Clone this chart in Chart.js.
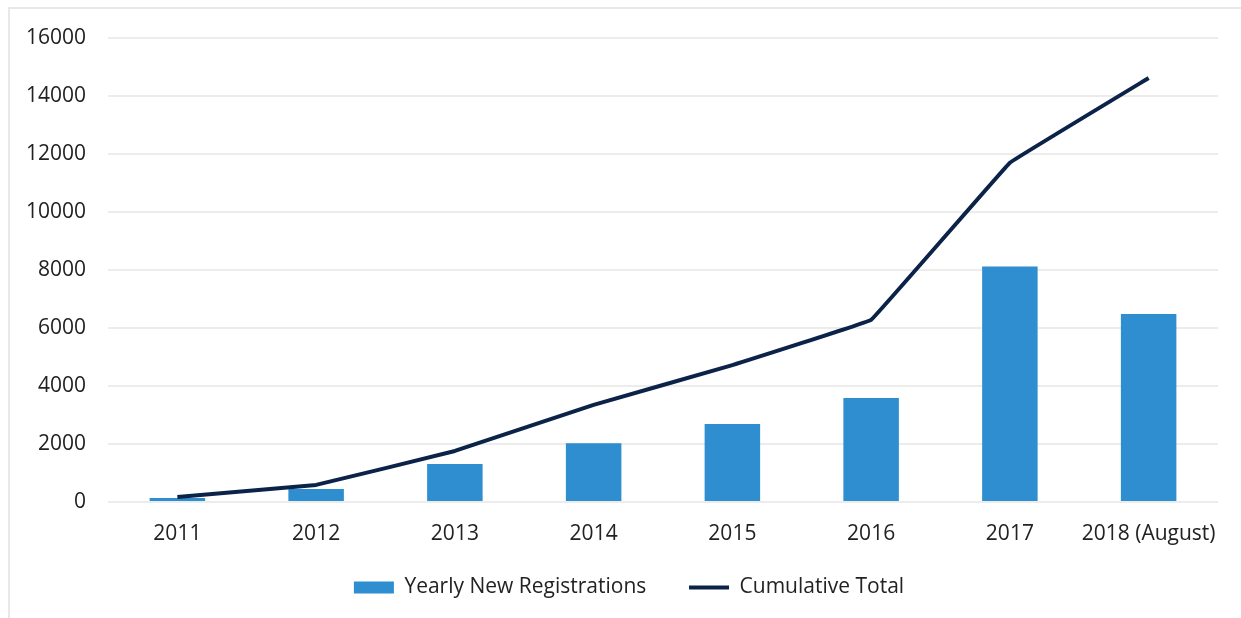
<!DOCTYPE html>
<html lang="en">
<head>
  <meta charset="UTF-8" />
  <title>Yearly New Registrations</title>
  <script src="https://cdn.jsdelivr.net/npm/chart.js"></script>
  <style>
    html, body { margin: 0; padding: 0; background: #fff; }
    #frame {
      position: absolute; left: 8px; top: 7px; width: 1240px; height: 620px;
      border-left: 2px solid #e8e8e8; border-top: 2px solid #e8e8e8;
    }
    #wrap { position: absolute; left: 0; top: 0; width: 1241px; height: 618px; }
  </style>
</head>
<body>
  <div id="frame"></div>
  <div id="wrap"><canvas id="chart" width="1241" height="618"></canvas></div>

  <script>
    const years = ["2011", "2012", "2013", "2014", "2015", "2016", "2017", "2018 (August)"];
    const yearlyNew = [140, 450, 1310, 2030, 2690, 3590, 8120, 6480];
    const cumulative = [170, 590, 1760, 3350, 4720, 6280, 11700, 14620];
    const yTicks = [0, 2000, 4000, 6000, 8000, 10000, 12000, 14000, 16000];

    const textColor = "#222222";
    const font = { family: "Open Sans", size: 21 };

    // nudge the legend a bit to the right, like the original
    const legendShift = {
      id: "legendShift",
      afterLayout(chart) {
        chart.legend.left += 20;
        chart.legend.right += 20;
      }
    };

    const ctx = document.getElementById("chart").getContext("2d");
    new Chart(ctx, {
      type: "bar",
      data: {
        labels: years,
        datasets: [{
          type: "bar",
          label: "Yearly New Registrations",
          data: yearlyNew,
          backgroundColor: "#2f8ecf",
          categoryPercentage: 1,
          barPercentage: 0.4,
          pointStyle: "rect",
          order: 1
        }, {
          type: "line",
          label: "Cumulative Total",
          data: cumulative,
          borderColor: "#0c2349",
          backgroundColor: "#0c2349",
          borderWidth: 4,
          borderJoinStyle: "round",
          pointRadius: 0,
          pointBorderWidth: 4,
          pointStyle: "line",
          tension: 0.03,
          order: 0
        }]
      },
      options: {
        responsive: false,
        animation: false,
        layout: { padding: { top: 38, right: 23, left: 0, bottom: 10 } },
        plugins: {
          tooltip: { enabled: false },
          legend: {
            position: "bottom",
            labels: {
              color: textColor,
              font: font,
              usePointStyle: true,
              pointStyleWidth: 40,
              boxHeight: 12,
              padding: 10,
              // wider gap between the two legend entries
              generateLabels: chart => {
                const items = Chart.defaults.plugins.legend.labels.generateLabels(chart);
                items.forEach(it => { if (it.datasetIndex === 0) it.text += "      "; });
                return items;
              },
              sort: (a, b) => a.datasetIndex - b.datasetIndex
            }
          }
        },
        scales: {
          x: {
            grid: { display: false },
            border: { display: false },
            ticks: { color: textColor, font: font, padding: 11, maxRotation: 0, autoSkip: false },
            afterFit: s => { s.height = 65; }
          },
          y: {
            min: 0,
            max: 16000,
            afterBuildTicks: s => { s.ticks = yTicks.map(v => ({ value: v })); },
            afterFit: s => { s.width = 108; },
            grid: { color: "#ececec", lineWidth: 2, drawTicks: false },
            border: { display: false },
            ticks: { color: textColor, font: font, padding: 22, callback: v => String(v) }
          }
        }
      },
      plugins: [legendShift]
    });
  </script>
</body>
</html>
